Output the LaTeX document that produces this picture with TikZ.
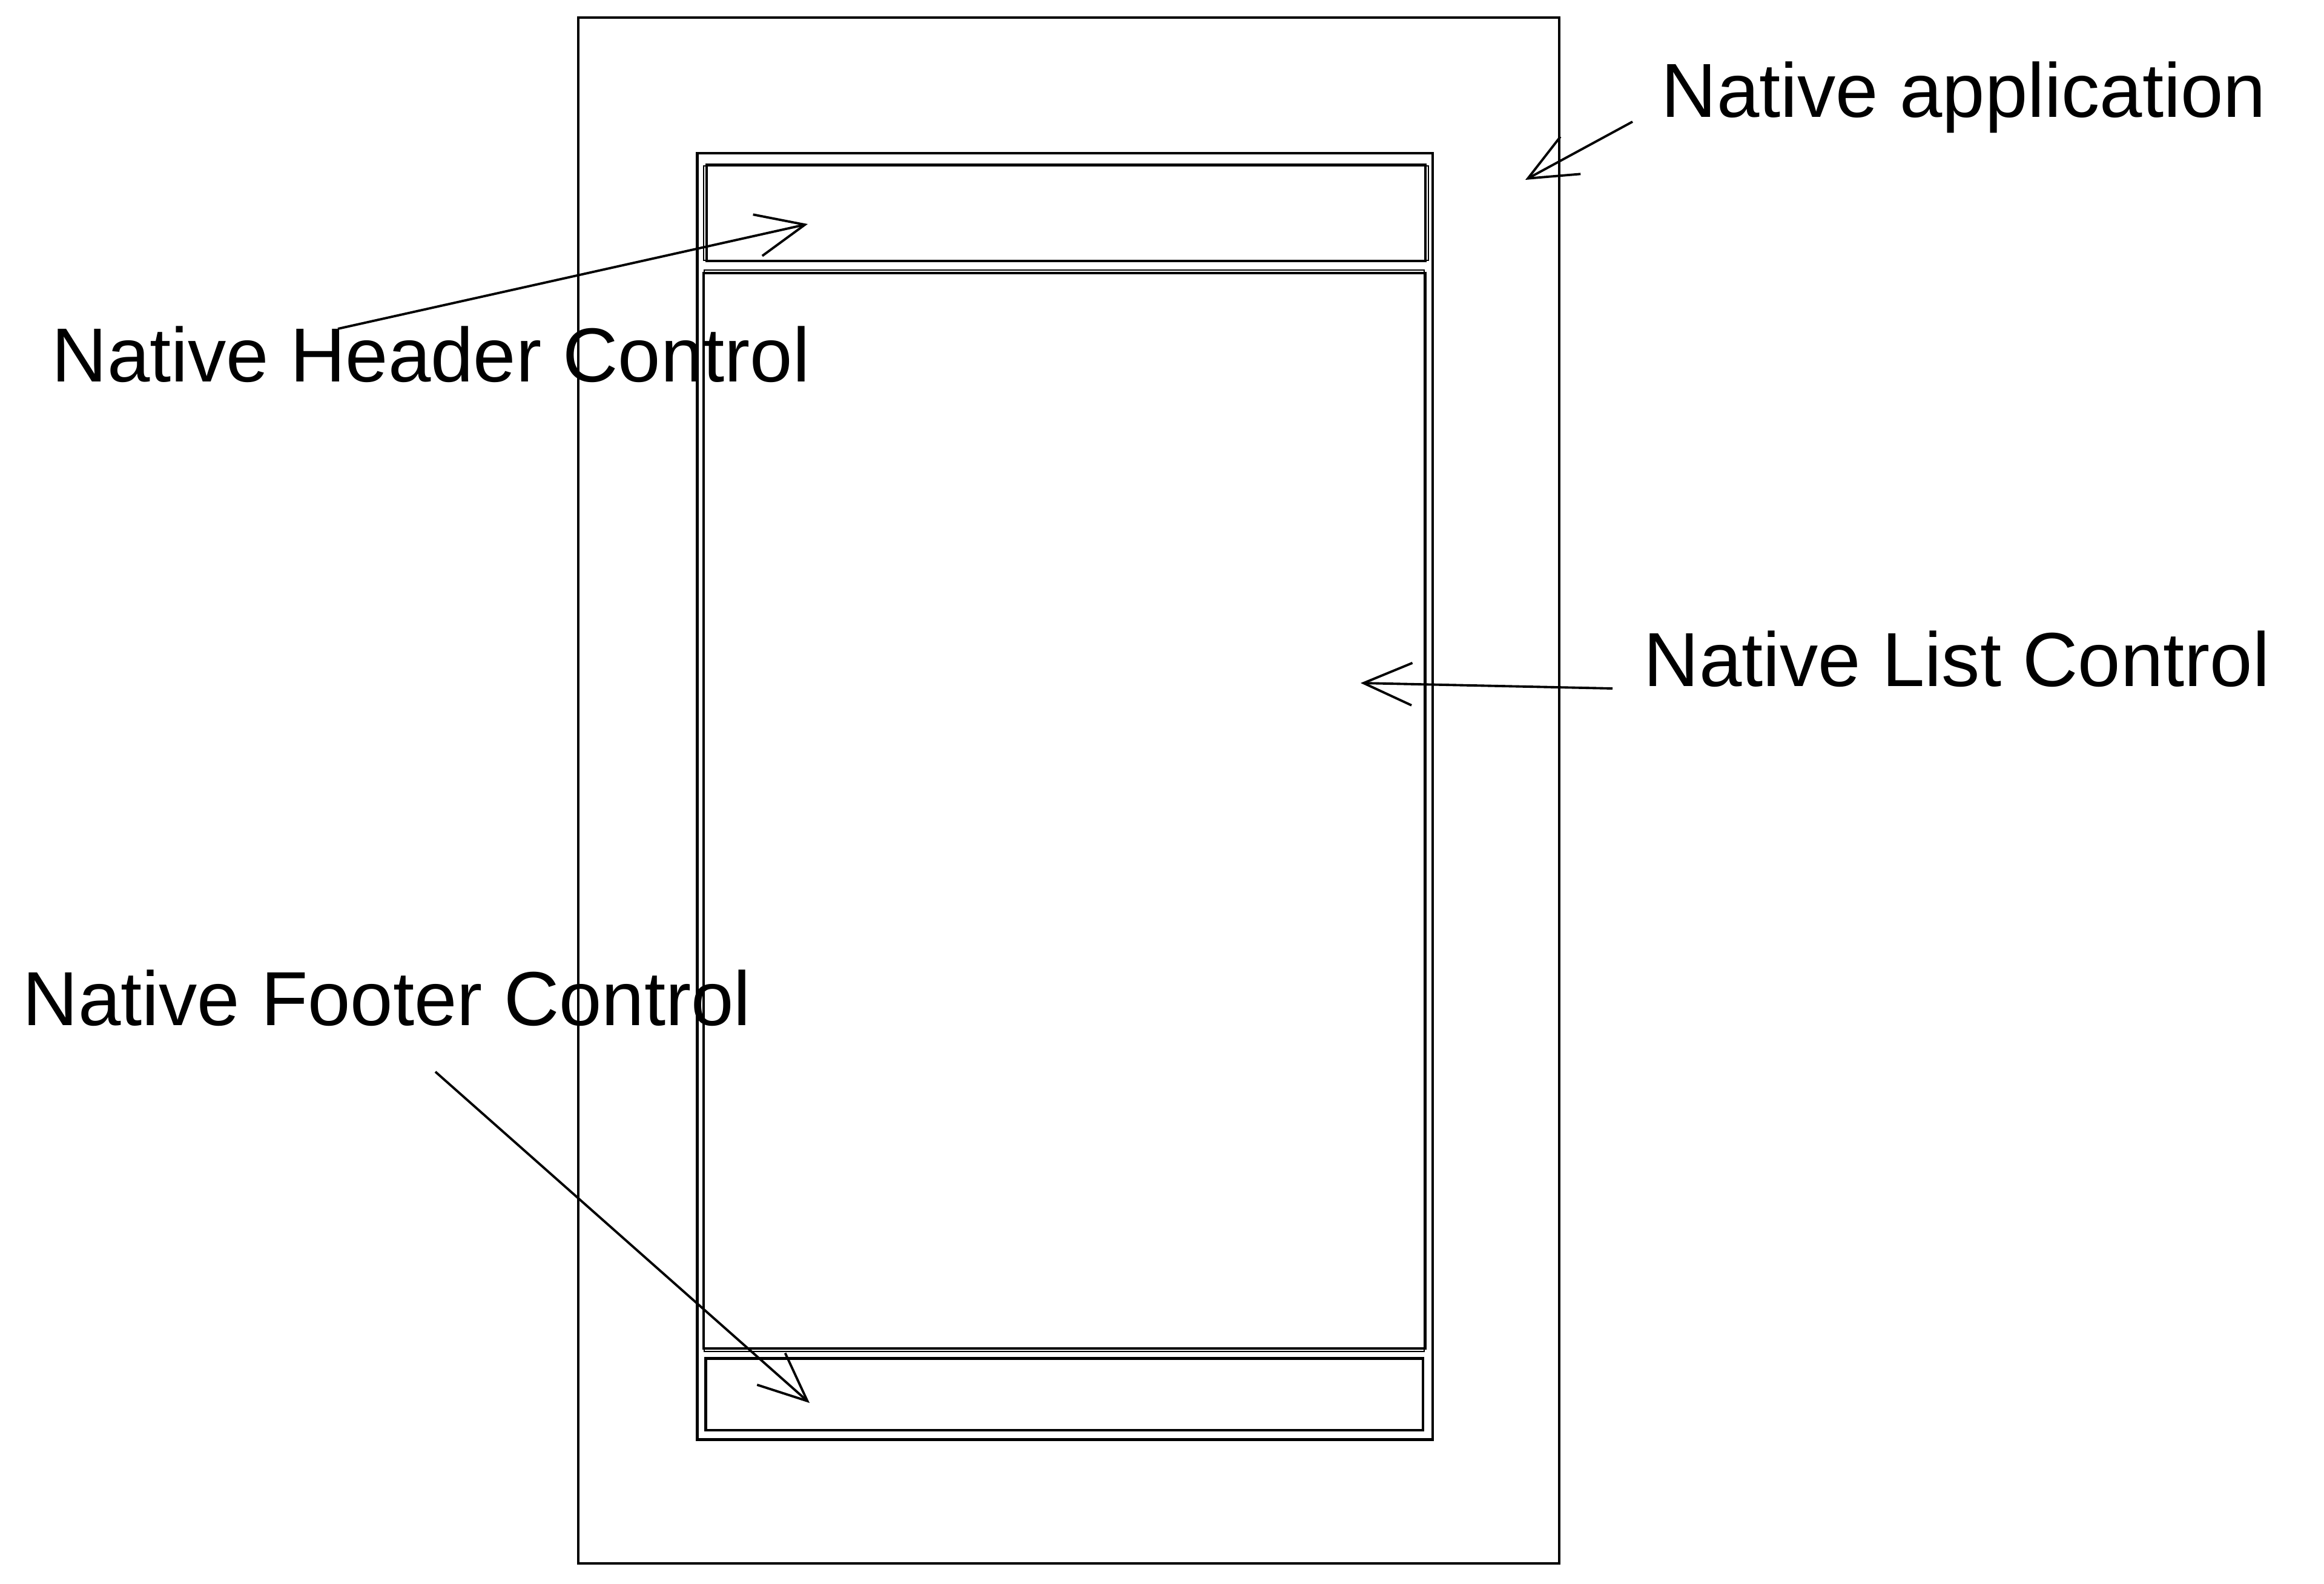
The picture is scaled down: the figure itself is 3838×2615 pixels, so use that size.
\documentclass[tikz,border=0pt]{standalone}
\usepackage{fontspec}
\setmainfont{Liberation Sans}
\usetikzlibrary{arrows.meta,positioning}

\tikzset{
  box/.style={draw,line width=1pt,inner sep=0pt,rectangle},
  sketch/.style={line width=0.5pt},
  label/.style={inner sep=0pt,anchor=base west,font=\fontsize{36}{43}\selectfont},
  pointer/.style={line width=1.1pt,-{Straight Barb[length=8mm,width=7mm]}}
}

\begin{document}
\begin{tikzpicture}[x=0.1mm,y=-0.1mm]
\useasboundingbox (0,0) rectangle (3838,2615);

% boxes
\node[box,minimum width=162mm,minimum height=255.3mm] (app) at (1765,1305.5) {};
\node[box,minimum width=121.5mm,minimum height=212.5mm] (frame) at (1758.5,1315.5) {};
\node[box,minimum width=118.7mm,minimum height=15.9mm] (header) at (1760.5,351.5) {};
\node[box,minimum width=119.2mm,minimum height=177.6mm] (list) at (1758,1339) {};
\node[box,minimum width=118.5mm,minimum height=11.9mm] (footer) at (1757.5,2302.5) {};

% second strokes
\draw[sketch] ([shift={(4,3)}]frame.north west) rectangle ([shift={(-3,-4)}]frame.south east);
\draw[sketch] ([shift={(-3,4)}]header.north west) rectangle ([shift={(3,-3)}]header.south east);
\draw[sketch] ([shift={(3,-3)}]list.north west) rectangle ([shift={(-4,3)}]list.south east);
\draw[sketch] ([shift={(4,4)}]footer.north west) rectangle ([shift={(-3,-3)}]footer.south east);

% labels
\node[label] (applbl) at (2743,193) {Native application};
\node[label] (hdrlbl) at (85,630) {Native Header Control};
\node[label] (listlbl) at (2714,1133) {Native List Control};
\node[label] (ftrlbl) at (37,1693) {Native Footer Control};

% arrow tips
\coordinate (apptip) at (2519,297);
\coordinate (hdrtip) at (1334,370);
\coordinate (listtip) at (2247,1128);
\coordinate (ftrtip) at (1337,2317);

\draw[pointer] ([shift={(-47,8)}]applbl.base west) -- (apptip);
\draw[pointer] ([shift={(473,-87)}]hdrlbl.base west) -- (hdrtip);
\draw[pointer] ([shift={(-51,4)}]listlbl.base west) -- (listtip);
\draw[pointer] ([shift={(682,77)}]ftrlbl.base west) -- (ftrtip);
\end{tikzpicture}
\end{document}
